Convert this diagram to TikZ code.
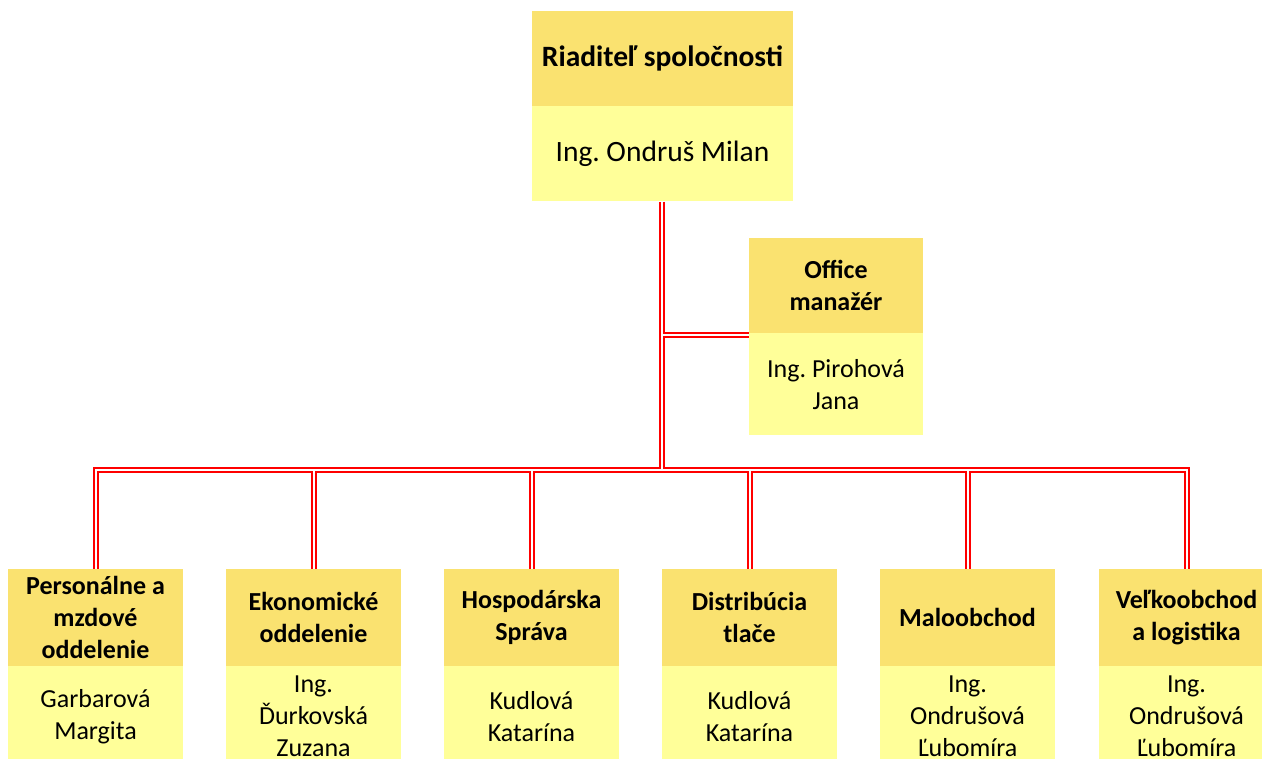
\documentclass[tikz,border=0pt]{standalone}
\usepackage{fontspec}
\setmainfont{Carlito}
\usetikzlibrary{calc}
\frenchspacing
\definecolor{hdr}{RGB}{250,226,112}
\definecolor{bdy}{RGB}{255,255,153}
\definecolor{wire}{RGB}{255,0,0}
\pgfdeclarelayer{background}
\pgfsetlayers{background,main}
\tikzset{
  hbox/.style={fill=hdr, draw=none, minimum width=#1, align=center, inner sep=0pt,
    font=\fontsize{26}{32}\selectfont\bfseries},
  bbox/.style={fill=bdy, draw=none, minimum width=#1, align=center, inner sep=0pt,
    font=\fontsize{26}{32}\selectfont},
  bigtext/.style={font=\fontsize{29.5}{36}\selectfont},
  bigbold/.style={font=\fontsize{29.5}{36}\selectfont\bfseries},
  redwire/.style={draw=wire, line width=6pt},
  whitewire/.style={draw=white, line width=2pt},
}
\begin{document}
\begin{tikzpicture}[x=1pt,y=1pt]
\useasboundingbox (0,0) rectangle (1262,-759);
% top box
\node[hbox=261, minimum height=95, bigbold] (toph) at (662.5,-58.5) {Riaditeľ spoločnosti};
\node[bbox=261, minimum height=95, anchor=north, bigtext] (topb) at (toph.south) {Ing. Ondruš Milan};
% office
\node[hbox=174, minimum height=95] (offh) at (836,-285.5) {Office\\manažér};
\node[bbox=174, minimum height=102, anchor=north] (offb) at (offh.south) {Ing. Pirohová\\Jana};
% bottom boxes
\node[hbox=175, minimum height=97] (h1) at (95.5,-617.5) {Personálne a\\mzdové\\oddelenie};
\node[bbox=175, minimum height=100, anchor=north] (b1) at (h1.south) {Garbarová\\Margita};
\node[hbox=175, minimum height=97] (h2) at (313.5,-617.5) {Ekonomické\\oddelenie};
\node[bbox=175, minimum height=100, anchor=north] (b2) at (h2.south) {Ing.\\Ďurkovská\\Zuzana};
\node[hbox=175, minimum height=97] (h3) at (531.5,-617.5) {Hospodárska\\Správa};
\node[bbox=175, minimum height=100, anchor=north] (b3) at (h3.south) {Kudlová\\Katarína};
\node[hbox=175, minimum height=97] (h4) at (749.5,-617.5) {Distribúcia\\tlače};
\node[bbox=175, minimum height=100, anchor=north] (b4) at (h4.south) {Kudlová\\Katarína};
\node[hbox=175, minimum height=97] (h5) at (967.5,-617.5) {Maloobchod};
\node[bbox=175, minimum height=100, anchor=north] (b5) at (h5.south) {Ing.\\Ondrušová\\Ľubomíra};
\node[hbox=175, minimum height=97] (h6) at (1186.5,-617.5) {Veľkoobchod\\a logistika};
\node[bbox=175, minimum height=100, anchor=north] (b6) at (h6.south) {Ing.\\Ondrušová\\Ľubomíra};
% connectors
\coordinate (bus) at (662,-470);
\coordinate (brk) at (662,-335.5);
\coordinate (offin) at (749,-335.5);
\begin{pgfonlayer}{background}
\foreach \st in {redwire,whitewire}{
  \draw[\st] (topb.south -| bus) -- (bus);
  \draw[\st] (brk) -- (offin);
  \foreach \c in {h1,h2,h3,h4,h5,h6}{
    \draw[\st] (bus) -| (\c.north);
  }
}
\end{pgfonlayer}
\end{tikzpicture}
\end{document}
